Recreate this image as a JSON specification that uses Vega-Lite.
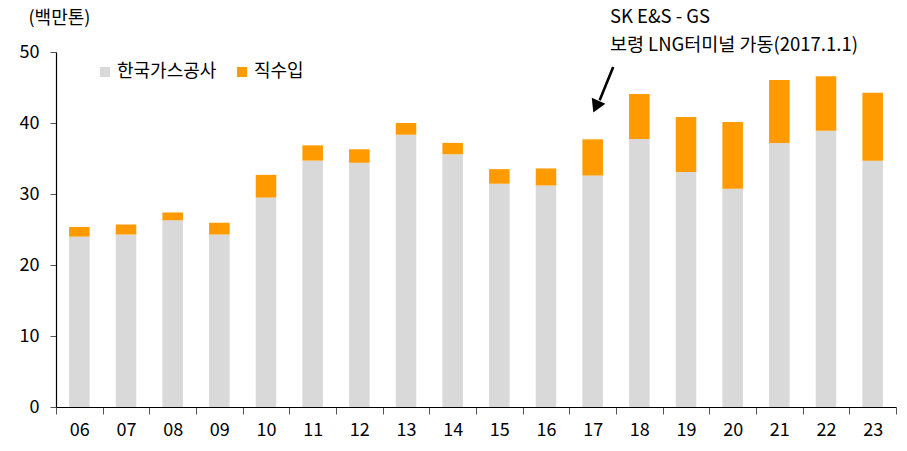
{
  "$schema": "https://vega.github.io/schema/vega-lite/v6.json",
  "width": 840,
  "height": 355,
  "autosize": {"type": "none"},
  "padding": {"left": 56, "top": 52, "right": 11, "bottom": 44},
  "config": {
    "font": "Noto Sans CJK KR",
    "view": {"stroke": null},
    "axis": {"labelFont": "Noto Sans CJK KR", "titleFont": "Noto Sans CJK KR"},
    "legend": {"labelFont": "Noto Sans CJK KR"}
  },
  "layer": [
    {
      "data": {
        "values": [
          {"year": "06", "type": "한국가스공사", "order": 1, "value": 24.0},
          {"year": "06", "type": "직수입", "order": 2, "value": 1.35},
          {"year": "07", "type": "한국가스공사", "order": 1, "value": 24.3},
          {"year": "07", "type": "직수입", "order": 2, "value": 1.4},
          {"year": "08", "type": "한국가스공사", "order": 1, "value": 26.3},
          {"year": "08", "type": "직수입", "order": 2, "value": 1.1},
          {"year": "09", "type": "한국가스공사", "order": 1, "value": 24.3},
          {"year": "09", "type": "직수입", "order": 2, "value": 1.65},
          {"year": "10", "type": "한국가스공사", "order": 1, "value": 29.5},
          {"year": "10", "type": "직수입", "order": 2, "value": 3.2},
          {"year": "11", "type": "한국가스공사", "order": 1, "value": 34.7},
          {"year": "11", "type": "직수입", "order": 2, "value": 2.15},
          {"year": "12", "type": "한국가스공사", "order": 1, "value": 34.4},
          {"year": "12", "type": "직수입", "order": 2, "value": 1.9},
          {"year": "13", "type": "한국가스공사", "order": 1, "value": 38.35},
          {"year": "13", "type": "직수입", "order": 2, "value": 1.65},
          {"year": "14", "type": "한국가스공사", "order": 1, "value": 35.6},
          {"year": "14", "type": "직수입", "order": 2, "value": 1.6},
          {"year": "15", "type": "한국가스공사", "order": 1, "value": 31.45},
          {"year": "15", "type": "직수입", "order": 2, "value": 2.05},
          {"year": "16", "type": "한국가스공사", "order": 1, "value": 31.2},
          {"year": "16", "type": "직수입", "order": 2, "value": 2.4},
          {"year": "17", "type": "한국가스공사", "order": 1, "value": 32.6},
          {"year": "17", "type": "직수입", "order": 2, "value": 5.1},
          {"year": "18", "type": "한국가스공사", "order": 1, "value": 37.75},
          {"year": "18", "type": "직수입", "order": 2, "value": 6.35},
          {"year": "19", "type": "한국가스공사", "order": 1, "value": 33.1},
          {"year": "19", "type": "직수입", "order": 2, "value": 7.75},
          {"year": "20", "type": "한국가스공사", "order": 1, "value": 30.75},
          {"year": "20", "type": "직수입", "order": 2, "value": 9.4},
          {"year": "21", "type": "한국가스공사", "order": 1, "value": 37.2},
          {"year": "21", "type": "직수입", "order": 2, "value": 8.85},
          {"year": "22", "type": "한국가스공사", "order": 1, "value": 38.9},
          {"year": "22", "type": "직수입", "order": 2, "value": 7.7},
          {"year": "23", "type": "한국가스공사", "order": 1, "value": 34.7},
          {"year": "23", "type": "직수입", "order": 2, "value": 9.55}
        ]
      },
      "mark": {"type": "bar", "width": {"band": 0.44}},
      "encoding": {
        "x": {
          "field": "year", "type": "ordinal", "sort": null,
          "scale": {"paddingInner": 0, "paddingOuter": 0},
          "axis": {
            "title": null, "labelAngle": 0, "labelFontSize": 18, "labelColor": "#000000",
            "labelPadding": 7, "tickBand": "extent", "tickSize": 7, "tickColor": "#555555",
            "domainColor": "#000000", "domainWidth": 1.2
          }
        },
        "y": {
          "field": "value", "type": "quantitative", "stack": "zero",
          "scale": {"domain": [0, 50], "nice": false},
          "axis": {
            "values": [0, 10, 20, 30, 40, 50], "grid": false,
            "title": "(백만톤)", "titleAngle": 0, "titleAlign": "left", "titleBaseline": "middle",
            "titleX": -28, "titleY": -34, "titleFontSize": 18, "titleFontWeight": "normal", "titleColor": "#000000",
            "labelFontSize": 18, "labelColor": "#000000", "labelPadding": 11,
            "tickSize": 6, "tickColor": "#555555", "domainColor": "#000000", "domainWidth": 1.2
          }
        },
        "color": {
          "field": "type", "type": "nominal",
          "scale": {"domain": ["한국가스공사", "직수입"], "range": ["#d9d9d9", "#ff9a00"]},
          "legend": {
            "title": null, "orient": "none", "direction": "horizontal",
            "legendX": 40, "legendY": 11, "symbolType": "square", "symbolSize": 100,
            "symbolStrokeWidth": 0, "labelFontSize": 18, "labelColor": "#000000",
            "labelOffset": 3, "columnPadding": 16
          }
        },
        "order": {"field": "order", "type": "quantitative"}
      }
    },
    {
      "data": {"values": [{"x": 11.94, "y": 47.9, "x2": 11.65, "y2": 43.2}]},
      "mark": {"type": "rule", "strokeWidth": 2.6, "color": "#000000"},
      "encoding": {
        "x": {"field": "x", "type": "quantitative", "scale": {"domain": [0, 18], "nice": false, "zero": false}, "axis": null},
        "y": {"field": "y", "type": "quantitative"},
        "x2": {"field": "x2"},
        "y2": {"field": "y2"}
      }
    },
    {
      "data": {"values": [{"x": 11.57, "y": 42.3}]},
      "mark": {"type": "point", "shape": "triangle-up", "filled": true, "color": "#000000", "size": 220, "angle": 204, "opacity": 1},
      "encoding": {
        "x": {"field": "x", "type": "quantitative", "scale": {"domain": [0, 18], "nice": false, "zero": false}, "axis": null},
        "y": {"field": "y", "type": "quantitative"}
      }
    },
    {
      "data": {"values": [
        {"x": 11.87, "y": 54.9, "label": "SK E&S - GS"},
        {"x": 11.87, "y": 51.0, "label": "보령 LNG터미널 가동(2017.1.1)"}
      ]},
      "mark": {"type": "text", "align": "left", "baseline": "middle", "fontSize": 18.5, "color": "#000000"},
      "encoding": {
        "x": {"field": "x", "type": "quantitative", "scale": {"domain": [0, 18], "nice": false, "zero": false}, "axis": null},
        "y": {"field": "y", "type": "quantitative"},
        "text": {"field": "label"}
      }
    }
  ],
  "resolve": {"scale": {"x": "independent"}}
}
